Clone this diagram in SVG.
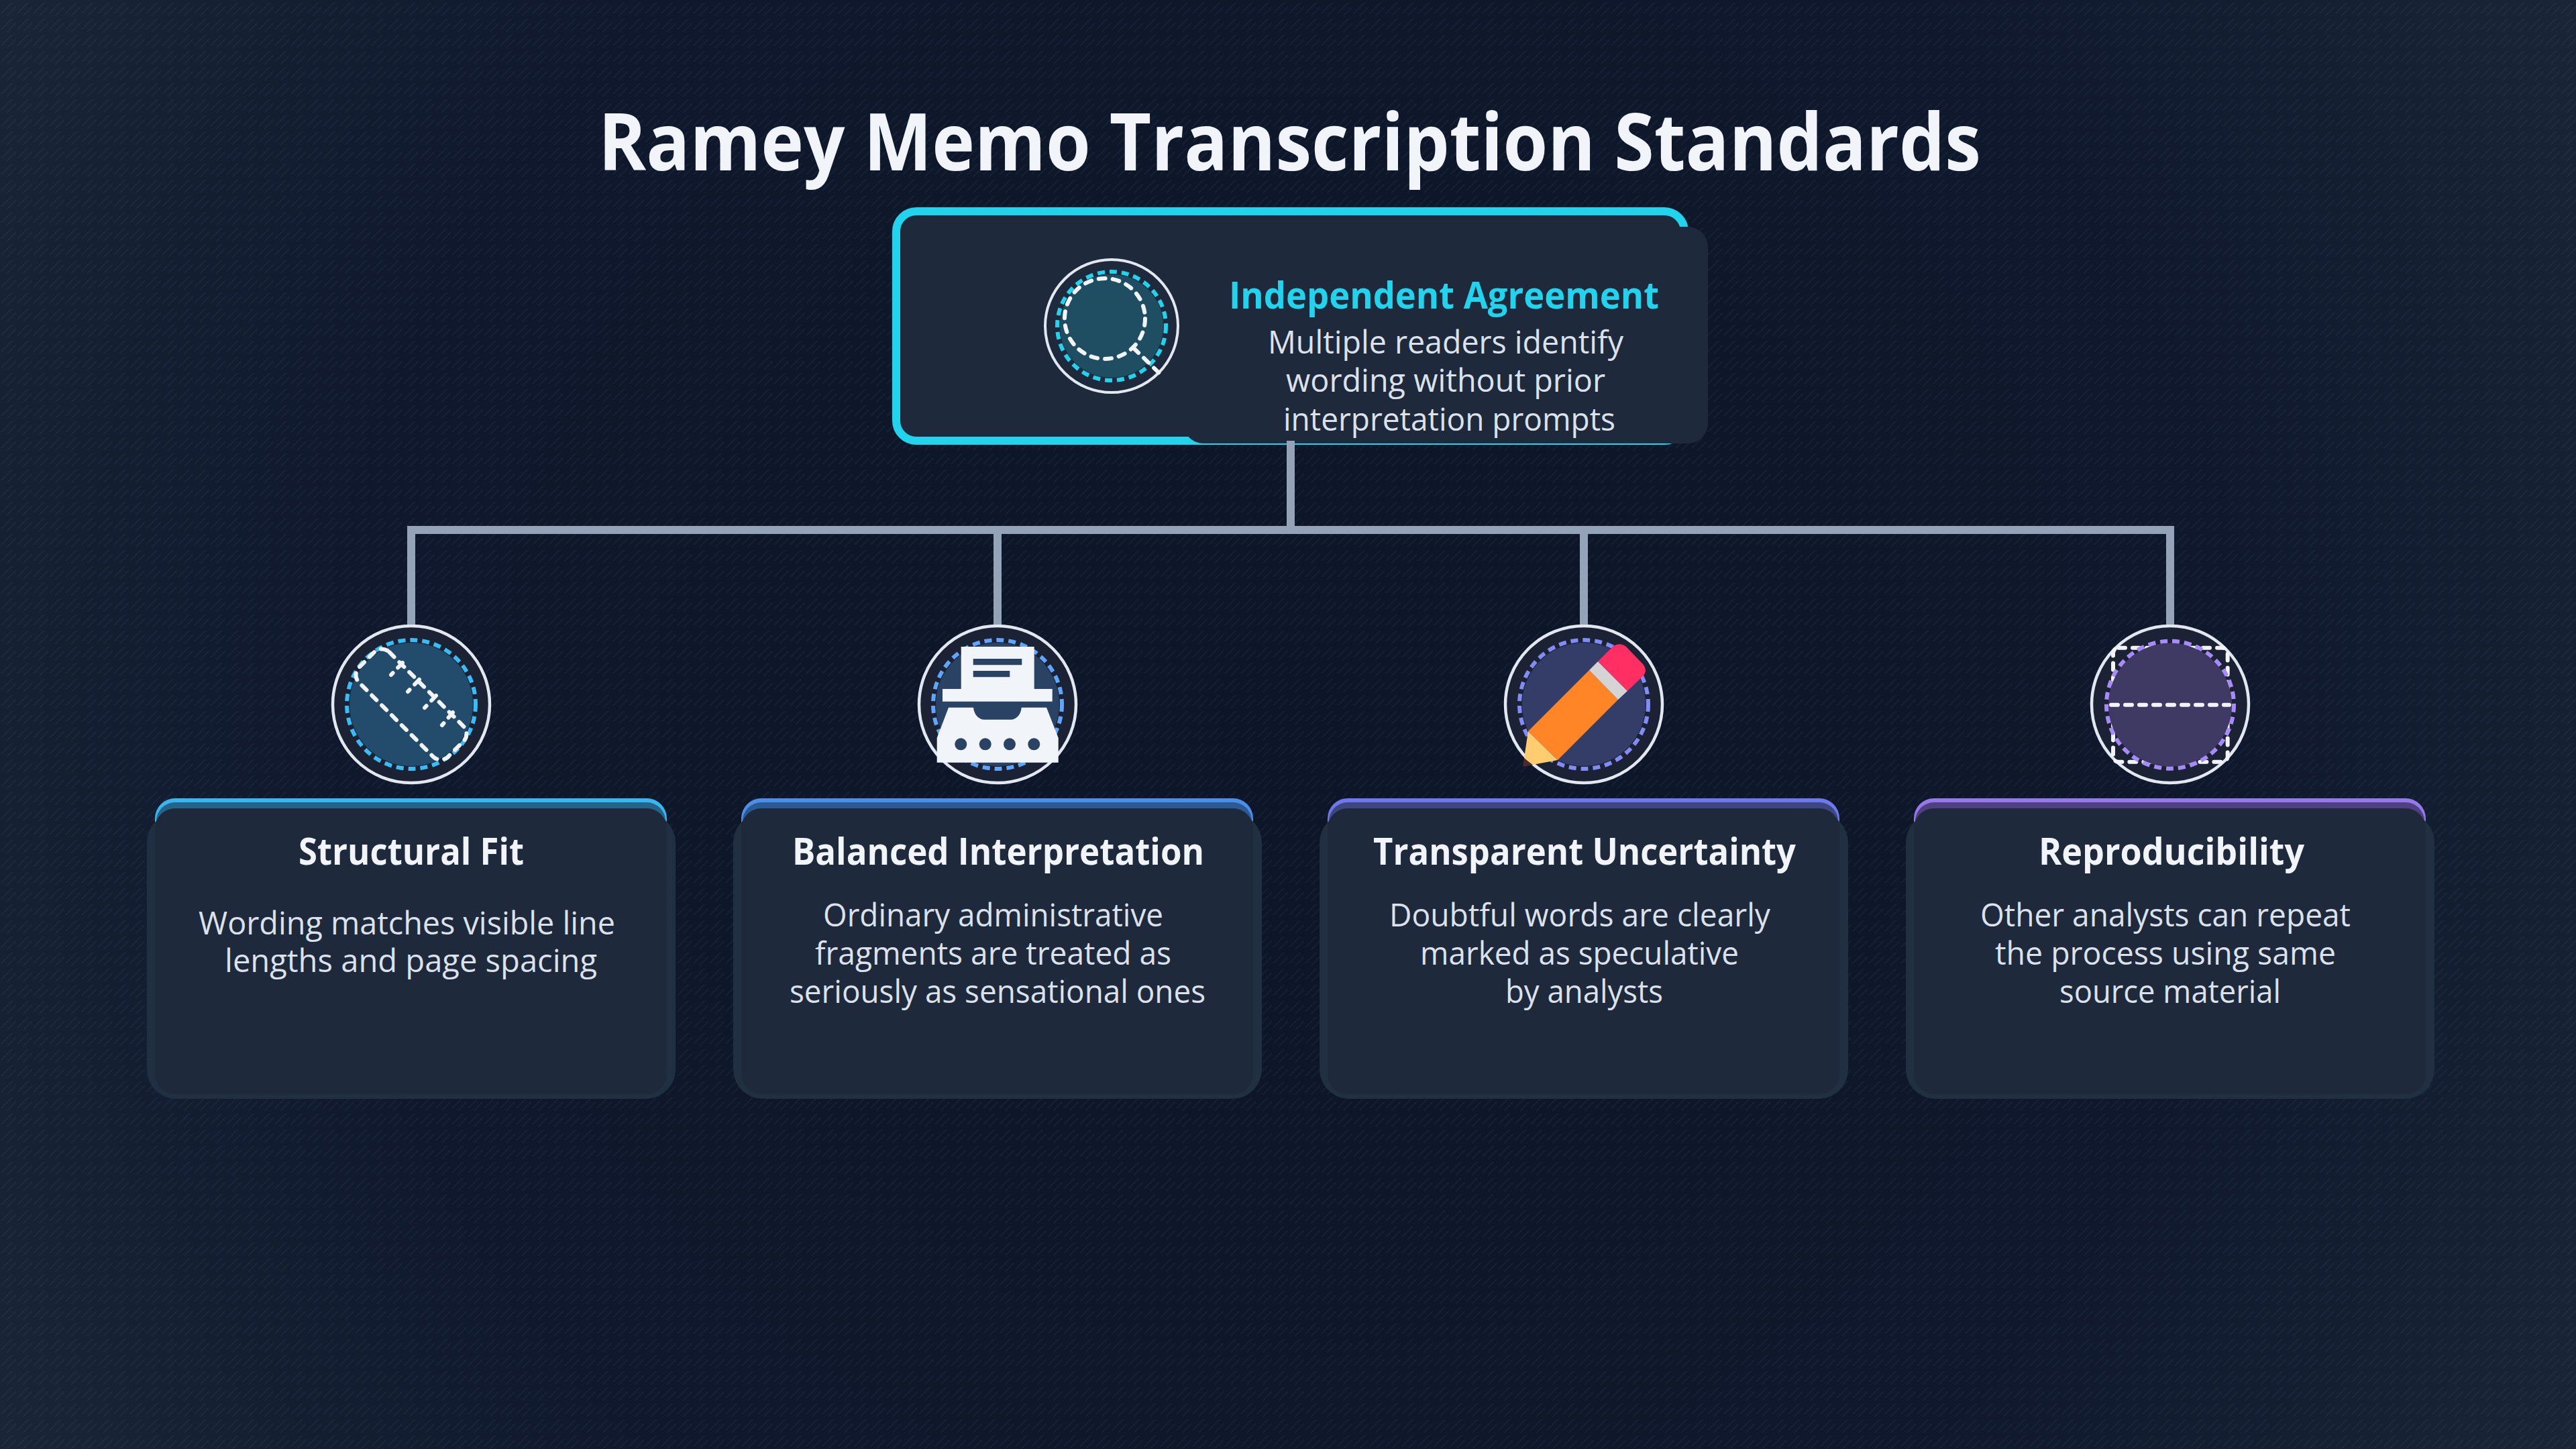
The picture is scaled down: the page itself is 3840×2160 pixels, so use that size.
<svg xmlns="http://www.w3.org/2000/svg" width="3840" height="2160" viewBox="0 0 3840 2160">
<defs>
<radialGradient id="bg" gradientUnits="userSpaceOnUse" cx="1920" cy="1080" r="2200">
<stop offset="0" stop-color="#0d1528"/><stop offset="0.65" stop-color="#0f182c"/><stop offset="1" stop-color="#1a2538"/>
</radialGradient>
<pattern id="hatch" width="24" height="24" patternUnits="userSpaceOnUse">
<path d="M2 20L18 4M10 24L24 10" fill="none" stroke="#94a3b8" stroke-opacity="0.06" stroke-width="2"/>
</pattern>
</defs>
<style>
text{font-family:"Open Sans","Noto Sans","Liberation Sans",sans-serif}
.title{font-size:118px;font-weight:700;fill:#f1f5f9}
.head{font-size:56px;font-weight:700;fill:#f1f5f9}
.body{font-size:48px;font-weight:400;fill:#dbe2ec}
.shell{fill:#212f43}
.face{fill:#1e293b}
.ring{fill:#1a2234;stroke:#e2e8f0;stroke-width:4.5}
.dash{fill:none;stroke-width:6;stroke-dasharray:11 7}
.wd{fill:none;stroke:#f1f5f9;stroke-width:6;stroke-linecap:round;stroke-dasharray:10 11}
.conn{fill:none;stroke:#94a3b8;stroke-width:12}
.w{fill:#f1f5f9}
</style>
<rect id="background" width="3840" height="2160" fill="url(#bg)"/>
<rect width="3840" height="2160" fill="url(#hatch)"/>
<text class="title" x="892" y="254" textLength="2061" lengthAdjust="spacingAndGlyphs">Ramey Memo Transcription Standards</text>

<g id="node-independent-agreement">
<rect x="1336" y="315" width="1175" height="342" rx="30" fill="#1e293b" stroke="#22d3ee" stroke-width="12"/>
<rect x="1764" y="338" width="782" height="323" rx="30" fill="#1e2a3c"/>
<circle cx="1657" cy="486" r="99" fill="#1e293b" stroke="#e2e8f0" stroke-width="4"/>
<circle cx="1657" cy="486" r="77" fill="#1f4e63"/>
<circle cx="1657" cy="486" r="81" class="dash" stroke="#22d3ee"/>
<circle cx="1647" cy="475" r="60" class="wd"/>
<path d="M1690 519L1730 558" class="wd"/>
<text class="head" style="fill:#22d3ee" x="1832" y="460" textLength="641" lengthAdjust="spacingAndGlyphs">Independent Agreement</text>
<text class="body" x="1890" y="527" textLength="530" lengthAdjust="spacingAndGlyphs">Multiple readers identify</text>
<text class="body" x="1917" y="584" textLength="476" lengthAdjust="spacingAndGlyphs">wording without prior</text>
<text class="body" x="1913" y="642" textLength="495" lengthAdjust="spacingAndGlyphs">interpretation prompts</text>
</g>

<g id="node-structural-fit">
<rect x="231" y="1190" width="763" height="80" rx="30" fill="#38b6f1"/>
<rect x="233" y="1196" width="759" height="80" rx="28" fill="#256488"/>
<rect class="shell" x="219" y="1212" width="788" height="426" rx="44"/>
<rect class="face" x="231" y="1205" width="763" height="426" rx="30"/>
<circle class="ring" cx="613" cy="1050" r="117"/>
<circle cx="613" cy="1050" r="92" fill="#234b6c"/>
<circle cx="613" cy="1050" r="96" class="dash" stroke="#38bdf8"/>
<rect x="519" y="1018" width="188" height="64" rx="16" transform="rotate(45 613 1050)" class="wd"/>
<path d="M600 988L583 1006M625 1013L608 1031M650 1037L633 1055M675 1062L659 1081" class="wd"/>
<text class="head" x="445" y="1289" textLength="336" lengthAdjust="spacingAndGlyphs">Structural Fit</text>
<text class="body" x="296" y="1393" textLength="621" lengthAdjust="spacingAndGlyphs">Wording matches visible line</text>
<text class="body" x="335" y="1449" textLength="555" lengthAdjust="spacingAndGlyphs">lengths and page spacing</text>
</g>

<g id="node-balanced-interpretation">
<rect x="1105" y="1190" width="763" height="80" rx="30" fill="#4b8fe8"/>
<rect x="1107" y="1196" width="759" height="80" rx="28" fill="#2b5a94"/>
<rect class="shell" x="1093" y="1212" width="788" height="426" rx="44"/>
<rect class="face" x="1105" y="1205" width="763" height="426" rx="30"/>
<circle class="ring" cx="1487" cy="1050" r="117"/>
<circle cx="1487" cy="1050" r="92" fill="#2a4365"/>
<circle cx="1487" cy="1050" r="96" class="dash" stroke="#60a5fa"/>
<path class="w" d="M1432.7 964H1541.7V1027H1568.7V1045.7H1405V1027H1432.7Z"/>
<path d="M1450.7 982H1523.3V991.3H1450.7ZM1450.7 1000H1505.3V1009.3H1450.7Z" fill="#2a4365"/>
<path class="w" d="M1396.7 1100L1414 1054.7H1451C1452 1066 1460 1072.7 1467 1072.7H1507C1514 1072.7 1522 1066 1522.7 1054.7H1560L1577.7 1100V1136.7H1396.7Z"/>
<g fill="#2a4365"><circle cx="1432.3" cy="1109.3" r="9"/><circle cx="1468.7" cy="1109.3" r="9"/><circle cx="1505" cy="1109.3" r="9"/><circle cx="1541.3" cy="1109.3" r="9"/></g>
<text class="head" x="1181" y="1289" textLength="614" lengthAdjust="spacingAndGlyphs">Balanced Interpretation</text>
<text class="body" x="1227" y="1381" textLength="507" lengthAdjust="spacingAndGlyphs">Ordinary administrative</text>
<text class="body" x="1215" y="1438" textLength="531" lengthAdjust="spacingAndGlyphs">fragments are treated as</text>
<text class="body" x="1177" y="1495" textLength="620" lengthAdjust="spacingAndGlyphs">seriously as sensational ones</text>
</g>

<g id="node-transparent-uncertainty">
<rect x="1979" y="1190" width="763" height="80" rx="30" fill="#6e78ea"/>
<rect x="1981" y="1196" width="759" height="80" rx="28" fill="#3d4680"/>
<rect class="shell" x="1967" y="1212" width="788" height="426" rx="44"/>
<rect class="face" x="1979" y="1205" width="763" height="426" rx="30"/>
<circle class="ring" cx="2361" cy="1050" r="117"/>
<circle cx="2361" cy="1050" r="92" fill="#343c68"/>
<circle cx="2361" cy="1050" r="96" class="dash" stroke="#818cf8"/>
<path d="M2272 1130L2270 1143L2285 1140Z" fill="#4a2a2a"/>
<path d="M2278 1090L2322 1133L2285 1140L2272 1130Z" fill="#ffcc70"/>
<path d="M2278 1090L2369 999L2412 1043L2322 1133Z" fill="#ff8527"/>
<path d="M2369 999L2382 986L2426 1030L2412 1043Z" fill="#d4d4d4"/>
<path d="M2382 986L2405 963Q2415 957 2424 964L2450 991Q2456 1000 2450 1007L2426 1030Z" fill="#ff2e63"/>
<text class="head" x="2047" y="1289" textLength="630" lengthAdjust="spacingAndGlyphs">Transparent Uncertainty</text>
<text class="body" x="2071" y="1381" textLength="568" lengthAdjust="spacingAndGlyphs">Doubtful words are clearly</text>
<text class="body" x="2117" y="1438" textLength="475" lengthAdjust="spacingAndGlyphs">marked as speculative</text>
<text class="body" x="2244" y="1495" textLength="235" lengthAdjust="spacingAndGlyphs">by analysts</text>
</g>

<g id="node-reproducibility">
<rect x="2853" y="1190" width="763" height="80" rx="30" fill="#9578ea"/>
<rect x="2855" y="1196" width="759" height="80" rx="28" fill="#4f4080"/>
<rect class="shell" x="2841" y="1212" width="788" height="426" rx="44"/>
<rect class="face" x="2853" y="1205" width="763" height="426" rx="30"/>
<circle class="ring" cx="3235" cy="1050" r="117"/>
<rect x="3150" y="965.7" width="170.7" height="170" rx="8" class="wd"/>
<circle cx="3235" cy="1050.7" r="92" fill="#3f3a63"/>
<circle cx="3235" cy="1050.7" r="95" class="dash" stroke="#a78bfa"/>
<path d="M3147 1050.7H3323" class="wd"/>
<text class="head" x="3039" y="1289" textLength="396" lengthAdjust="spacingAndGlyphs">Reproducibility</text>
<text class="body" x="2952" y="1381" textLength="552" lengthAdjust="spacingAndGlyphs">Other analysts can repeat</text>
<text class="body" x="2974" y="1438" textLength="508" lengthAdjust="spacingAndGlyphs">the process using same</text>
<text class="body" x="3070" y="1495" textLength="330" lengthAdjust="spacingAndGlyphs">source material</text>
</g>

<g id="connectors">
<path class="conn" d="M1924 657V790"/>
<path class="conn" d="M613 790H3235"/>
<path class="conn" d="M613 784V931M1487 784V931M2361 784V931M3235 784V931"/>
</g>
</svg>
